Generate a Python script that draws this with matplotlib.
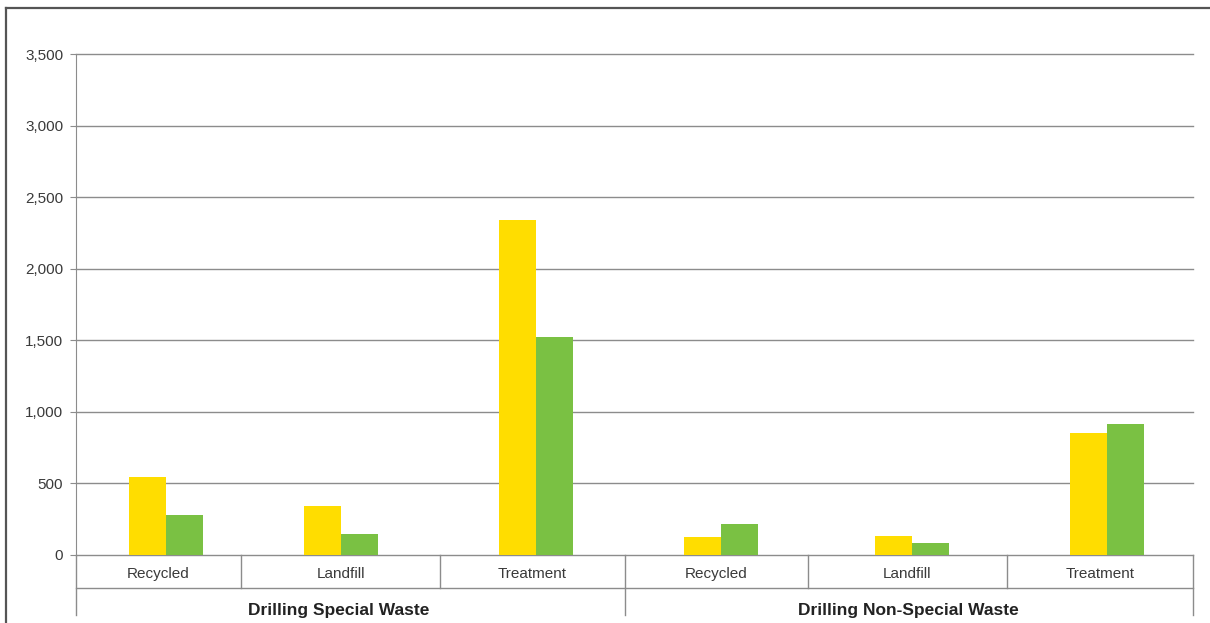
import matplotlib
matplotlib.use("Agg")
import matplotlib.pyplot as plt

# ── Données ────────────────────────────────────────────────────────────────
groups = ["Drilling Special Waste", "Drilling Non-Special Waste"]
categories = ["Recycled", "Landfill", "Treatment", "Recycled", "Landfill", "Treatment"]
yellow_vals = [545, 342, 2340, 126, 133, 852]
green_vals = [279, 147, 1523, 217, 84, 915]
yticks = [0, 500, 1000, 1500, 2000, 2500, 3000, 3500]

# ── Mise en page (pixels) ─────────────────────────────────────────────────
W, H = 1210, 623
AX_L, AX_R, AX_T, AX_B = 76, 1193, 54, 555
centers = [166, 341, 536, 721, 912, 1107]
bounds = [76, 241, 440, 625, 808, 1007, 1193]
group_split = 625
group_label_x = [339, 908]
BAR_W = 37

YELLOW = "#FFDD00"
GREEN = "#7AC143"
GRID = "#8c8c8c"
TXT = "#3a3a3a"

plt.rcParams["font.family"] = ["Liberation Sans", "DejaVu Sans"]

fig = plt.figure(figsize=(W / 100, H / 100), dpi=100)

# overlay pour le cadre et les lignes d'étiquettes
over = fig.add_axes([0, 0, 1, 1])
over.set_xlim(0, W)
over.set_ylim(H, 0)
over.axis("off")

ax = fig.add_axes([AX_L / W, 1 - AX_B / H, (AX_R - AX_L) / W, (AX_B - AX_T) / H])
ax.set_xlim(AX_L, AX_R)
ax.set_ylim(0, 3500)
ax.patch.set_alpha(0)

ax.bar([c - BAR_W / 2 for c in centers], yellow_vals, width=BAR_W, color=YELLOW, zorder=3)
ax.bar([c + BAR_W / 2 for c in centers], green_vals, width=BAR_W, color=GREEN, zorder=3)

for yv in yticks:
    ax.axhline(yv, color=GRID, lw=1.0, zorder=1, clip_on=False)
ax.set_yticks(yticks)
ax.set_yticklabels([f"{v:,}" for v in yticks], fontsize=11, color=TXT)
ax.tick_params(axis="y", length=4.3, color=GRID, pad=5)
ax.set_xticks([])
for s in ["top", "right", "bottom"]:
    ax.spines[s].set_visible(False)
ax.spines["left"].set_color(GRID)

# ── Cadre extérieur ───────────────────────────────────────────────────────
over.plot([6, 6], [H + 5, 8], color="#555555", lw=1.6)
over.plot([6, W + 5], [8, 8], color="#555555", lw=1.6)

# ── Lignes d'étiquettes de catégories ─────────────────────────────────────
over.plot([AX_L, AX_L], [AX_B, 615], color=GRID, lw=1.0)
over.plot([AX_L, AX_R], [588, 588], color=GRID, lw=1.0)
for b in bounds[1:]:
    y_end = 615 if b in (group_split, AX_R) else 588
    over.plot([b, b], [AX_B, y_end], color=GRID, lw=1.0)

for i, cat in enumerate(categories):
    mid = (bounds[i] + bounds[i + 1]) / 2
    over.text(mid, 578, cat, ha="center", va="baseline", fontsize=11, color=TXT)

for gx, g in zip(group_label_x, groups):
    over.text(gx, 615, g, ha="center", va="baseline", fontsize=12.5,
              fontweight="bold", color="#222222")

fig.savefig("out.png", dpi=100)
